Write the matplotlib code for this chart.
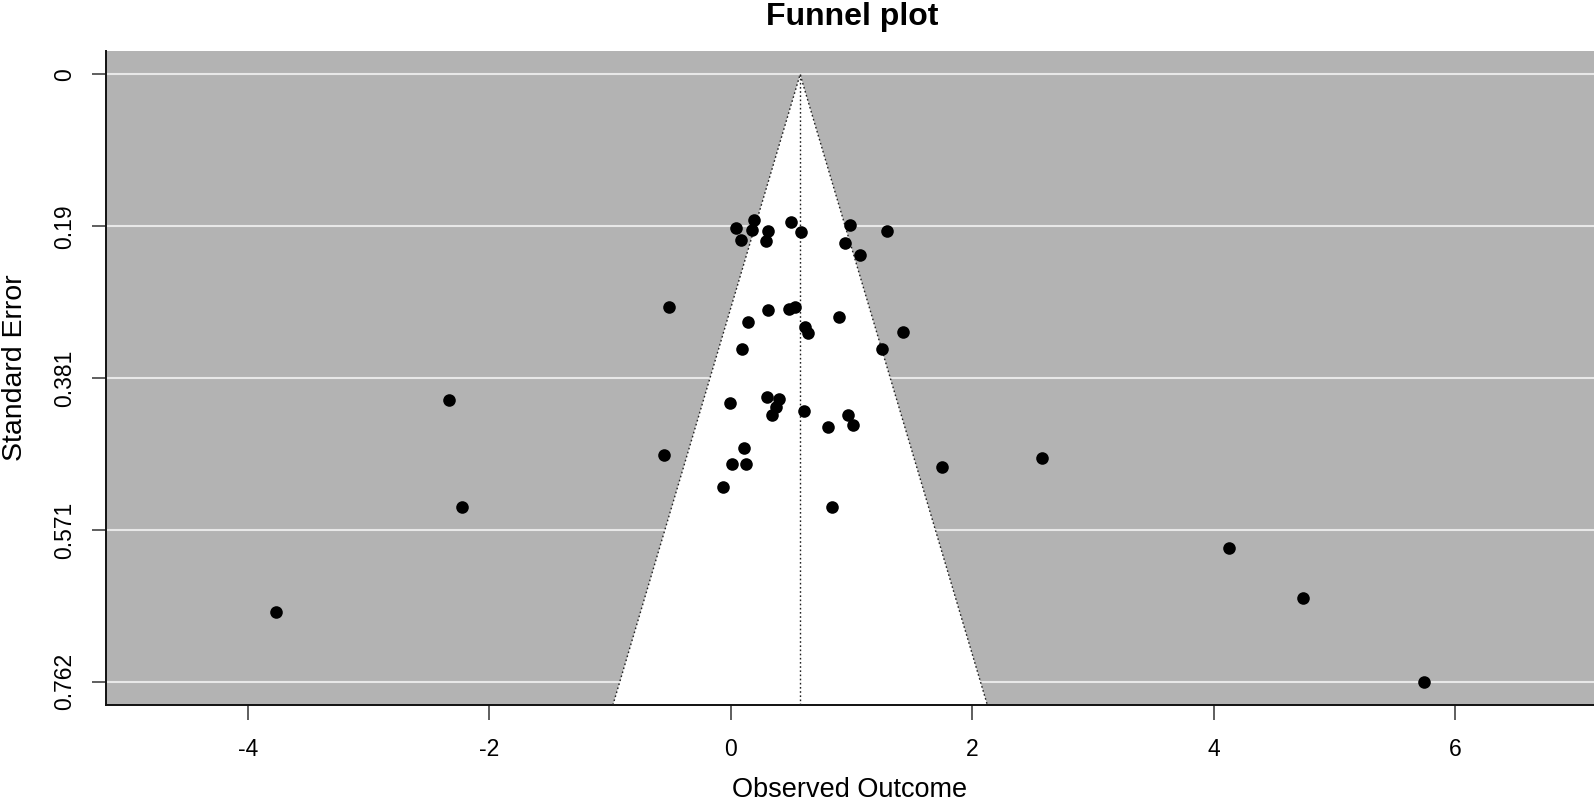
import matplotlib
matplotlib.use("Agg")
import matplotlib.pyplot as plt

plt.rcParams['font.family'] = ['Liberation Sans', 'DejaVu Sans']

# observed outcomes and their standard errors
outcome = [0.044, 0.193, 0.176, 0.083, 0.312, 0.295, 0.499, 0.585, 0.988, 1.292,
           0.949, 1.071, -0.508, 0.312, 0.480, 0.535, 0.146, 0.615, 0.638, 0.900,
           1.427, 0.091, 1.250, -0.008, 0.303, 0.400, 0.373, 0.340, 0.605, 0.974,
           1.010, 0.806, -0.555, 0.113, 0.011, 0.129, -0.066, 0.836, 1.752, 2.582,
           4.126, 4.738, 5.740, -2.333, -2.224, -3.766]
std_err = [0.193, 0.183, 0.195, 0.208, 0.196, 0.209, 0.185, 0.198, 0.189, 0.197,
           0.212, 0.226, 0.292, 0.295, 0.294, 0.292, 0.311, 0.317, 0.324, 0.304,
           0.323, 0.345, 0.344, 0.412, 0.405, 0.407, 0.417, 0.427, 0.422, 0.427,
           0.440, 0.442, 0.477, 0.468, 0.489, 0.489, 0.517, 0.543, 0.493, 0.481,
           0.594, 0.657, 0.762, 0.409, 0.543, 0.674]

pooled_estimate = 0.575
z_crit = 1.96

se_ticks = [0, 0.1905, 0.381, 0.5715, 0.762]
se_tick_labels = ['0', '0.19', '0.381', '0.571', '0.762']
x_ticks = [-4, -2, 0, 2, 4, 6]

se_lim = (0.791, -0.0298)
x_lim = (-5.173, 7.149)

fig = plt.figure(figsize=(15.94, 8.0), dpi=100)
ax = fig.add_axes([0.0665, 0.11875, 0.9335, 0.8179])
ax.set_facecolor('#b3b3b3')

for t in se_ticks:
    ax.axhline(t, color='#e8e8e8', lw=1.5, zorder=1)

se_bottom = se_lim[0]
lo = pooled_estimate - z_crit * se_bottom
hi = pooled_estimate + z_crit * se_bottom
ax.fill([lo, pooled_estimate, hi], [se_bottom, 0, se_bottom], color='white', zorder=2, lw=0)
ax.plot([lo, pooled_estimate, hi], [se_bottom, 0, se_bottom], color='#222222',
        ls=(0, (1.2, 1.8)), lw=1.0, zorder=3)
ax.plot([pooled_estimate, pooled_estimate], [0, se_bottom], color='#222222',
        ls=(0, (1.2, 1.8)), lw=1.0, zorder=3)

ax.scatter(outcome, std_err, s=82, color='black', zorder=5, lw=0)

ax.set_xlim(x_lim)
ax.set_ylim(se_lim)
ax.set_xticks(x_ticks)
ax.set_xticklabels([str(v) for v in x_ticks])
ax.set_yticks(se_ticks)
ax.set_yticklabels(se_tick_labels, rotation=90, va='center')

for s in ['top', 'right']:
    ax.spines[s].set_visible(False)
for s in ['left', 'bottom']:
    ax.spines[s].set_linewidth(1.4)
    ax.spines[s].set_color('#111111')

ax.tick_params(axis='x', length=10.5, width=1.1, pad=13.5, labelsize=16.5, color='#333333')
ax.tick_params(axis='y', length=10.0, width=1.1, pad=11.5, labelsize=16.5, color='#333333')

fig.text(852 / 1594, 1 - 25 / 800, 'Funnel plot', ha='center', va='baseline',
         fontsize=23, fontweight='bold')
fig.text((106 + 1594) / 2 / 1594, 1 - 797 / 800, 'Observed Outcome', ha='center',
         va='baseline', fontsize=19.5)
fig.text(15 / 1594, 1 - 368 / 800, 'Standard Error', ha='center', va='center',
         rotation=90, fontsize=20.5)

fig.savefig('out.png', dpi=100)
